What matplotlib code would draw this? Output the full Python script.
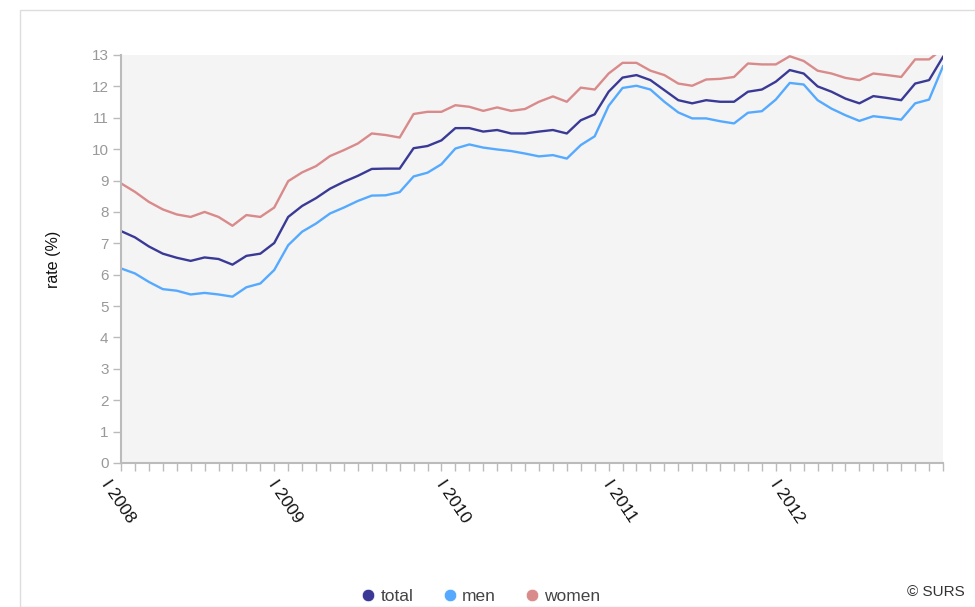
import matplotlib
matplotlib.use("Agg")
import matplotlib.pyplot as plt
from matplotlib.lines import Line2D
from matplotlib.patches import Rectangle
from matplotlib.transforms import ScaledTranslation

plt.rcParams['font.family'] = ['Liberation Sans', 'DejaVu Sans']

years = [2008, 2009, 2010, 2011, 2012]
months = [f"{m} {y}" for y in years for m in
          ["I", "II", "III", "IV", "V", "VI", "VII", "VIII", "IX", "X", "XI", "XII"]]

total = [7.39, 7.19, 6.90, 6.67, 6.54, 6.44, 6.55, 6.50, 6.32, 6.60, 6.67, 7.01,
         7.84, 8.19, 8.44, 8.74, 8.96, 9.15, 9.37, 9.38, 9.38, 10.03, 10.10, 10.28,
         10.67, 10.67, 10.56, 10.61, 10.50, 10.50, 10.56, 10.61, 10.50, 10.92, 11.11, 11.83,
         12.28, 12.36, 12.20, 11.88, 11.56, 11.46, 11.56, 11.51, 11.51, 11.83, 11.90, 12.15,
         12.52, 12.41, 12.00, 11.83, 11.61, 11.46, 11.69, 11.63, 11.56, 12.09, 12.20, 12.94]

men = [6.20, 6.04, 5.77, 5.54, 5.49, 5.37, 5.42, 5.37, 5.30, 5.60, 5.72, 6.15,
       6.94, 7.37, 7.63, 7.95, 8.14, 8.35, 8.52, 8.53, 8.63, 9.13, 9.25, 9.52,
       10.02, 10.15, 10.05, 9.99, 9.94, 9.86, 9.77, 9.81, 9.70, 10.13, 10.41, 11.38,
       11.95, 12.02, 11.90, 11.51, 11.17, 10.98, 10.98, 10.89, 10.82, 11.16, 11.21, 11.58,
       12.11, 12.06, 11.56, 11.29, 11.08, 10.90, 11.05, 11.00, 10.94, 11.46, 11.58, 12.64]

women = [8.91, 8.64, 8.32, 8.08, 7.92, 7.84, 8.00, 7.84, 7.56, 7.90, 7.84, 8.14,
         8.98, 9.26, 9.46, 9.78, 9.97, 10.18, 10.50, 10.45, 10.37, 11.12, 11.19, 11.19,
         11.40, 11.35, 11.22, 11.33, 11.22, 11.28, 11.51, 11.68, 11.51, 11.96, 11.90, 12.41,
         12.75, 12.75, 12.50, 12.36, 12.09, 12.02, 12.22, 12.24, 12.30, 12.73, 12.70, 12.70,
         12.96, 12.81, 12.50, 12.41, 12.27, 12.20, 12.41, 12.36, 12.30, 12.86, 12.86, 13.20]

series_names = ["total", "men", "women"]
colors = {"total": "#3a3a96", "men": "#55aaff", "women": "#d98a8a"}
y_ticks = list(range(0, 14))

fig = plt.figure(figsize=(9.75, 6.07), dpi=100)
ax = fig.add_axes([121/975, 1-463/607, (943-121)/975, (463-55)/607])

# outer light frame
fig.patches.append(Rectangle((20/975, 0), 1.2, (607-10)/607, transform=fig.transFigure,
                             fill=False, edgecolor="#dddddd", linewidth=1.0))

ax.set_facecolor("#f4f4f4")
x = list(range(len(months)))
for name, vals in zip(series_names, [total, men, women]):
    ax.plot(x, vals, color=colors[name], linewidth=1.7, solid_joinstyle='round')

ax.set_xlim(0, len(months) - 1)
ax.set_ylim(0, 13)
ax.set_yticks(y_ticks)
ax.set_yticklabels([str(v) for v in y_ticks])
ax.set_xticks(x)
ax.set_xticklabels([m if m.startswith("I ") else "" for m in months])

for s in ["top", "right"]:
    ax.spines[s].set_visible(False)
for s in ["left", "bottom"]:
    ax.spines[s].set_color("#bbbbbb")
    ax.spines[s].set_linewidth(1.5)

ax.tick_params(axis='y', length=6, width=1, color="#bbbbbb", labelcolor="#999999",
               labelsize=11, pad=3)
ax.tick_params(axis='x', length=6, width=1, color="#bbbbbb", labelcolor="#111111",
               labelsize=12.5, pad=7)
off = ScaledTranslation(-16/100, 0, fig.dpi_scale_trans)
for lab in ax.get_xticklabels():
    lab.set_rotation(-56)
    lab.set_rotation_mode('anchor')
    lab.set_ha('left')
    lab.set_va('center')
    lab.set_transform(lab.get_transform() + off)

ax.set_ylabel("rate (%)", fontsize=11.5, color="#111111", labelpad=22)

handles = [Line2D([0], [0], linestyle='none', marker='o', markersize=9,
                  markerfacecolor=colors[n], markeredgecolor='white', markeredgewidth=0.5)
           for n in series_names]
leg = fig.legend(handles, series_names, loc='center', ncol=3, frameon=False,
                 bbox_to_anchor=(480/975, 1-596/607), fontsize=12.5,
                 handletextpad=0.2, columnspacing=1.6, handlelength=1.0)
for t in leg.get_texts():
    t.set_color("#444444")

fig.text(965/975, 1-592/607, "© SURS", ha='right', va='center', fontsize=11, color="#333333")

fig.savefig("out.png", dpi=100)
